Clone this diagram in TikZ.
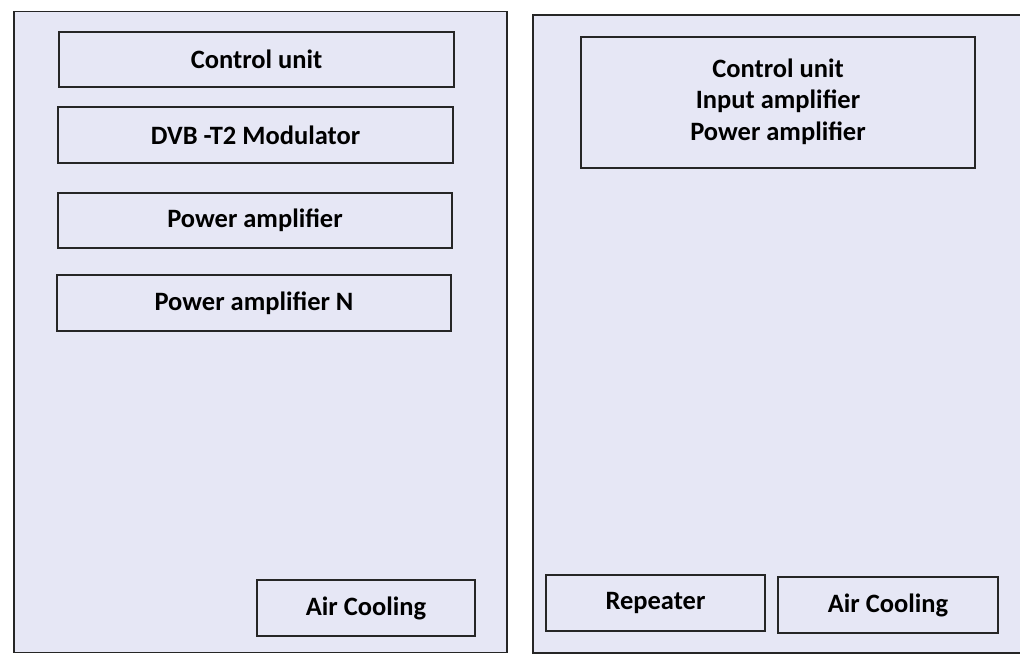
\documentclass[tikz,border=0pt]{standalone}
\usepackage{fontspec}
\setmainfont{Carlito}
\begin{document}
\begin{tikzpicture}[x=1pt,y=-1pt,
  panel/.style={draw=black!85, line width=1.4pt, fill=panelbg, inner sep=0pt},
  unitbox/.style={draw=black!85, line width=1.4pt, fill=panelbg, inner sep=0pt,
    font=\fontsize{26.5}{31.5}\selectfont\bfseries, text=black, align=center},
]
\definecolor{panelbg}{RGB}{230,231,245}
\useasboundingbox[fill=white] (0,0) rectangle (1020,655);
% panels
\node[panel, minimum width=493pt, minimum height=641pt] (lp) at (260.5,332) {};
\node[panel, minimum width=520pt, minimum height=638pt] (rp) at (793,334) {};
% left panel units
\node[unitbox, minimum width=395pt, minimum height=55pt] (cu) at (256.5,59.5) {Control unit};
\node[unitbox, minimum width=395pt, minimum height=56pt] (dvb) at (255.5,135) {DVB -T2 Modulator};
\node[unitbox, minimum width=394pt, minimum height=55pt] (pa) at (255,220.5) {Power amplifier};
\node[unitbox, minimum width=394pt, minimum height=56pt] (pan) at (254,303) {Power amplifier N};
\node[unitbox, minimum width=218pt, minimum height=56pt] (acl) at (366,608) {Air Cooling};
% right panel units
\node[unitbox, minimum width=394pt, minimum height=131pt] (top) at (778,102.5) {};
\node[font=\fontsize{26.5}{31.5}\selectfont\bfseries, text=black, align=center, inner sep=0pt] (toptxt) at (778,101.5) {Control unit\\Input amplifier\\Power amplifier};
\node[unitbox, minimum width=219pt, minimum height=56pt] (rep) at (655.5,603) {Repeater};
\node[unitbox, minimum width=220pt, minimum height=56pt] (acr) at (888,605) {Air Cooling};
\end{tikzpicture}
\end{document}
